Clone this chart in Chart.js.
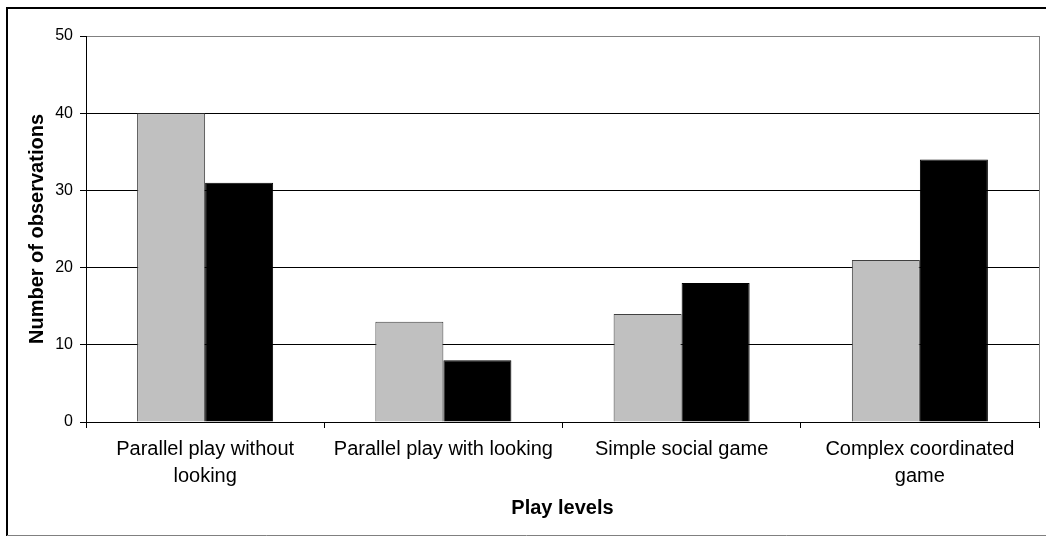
<!DOCTYPE html>
<html>
<head>
<meta charset="utf-8">
<script src="https://cdn.jsdelivr.net/npm/chart.js@4/dist/chart.umd.min.js"></script>
<style>
  html, body { margin: 0; padding: 0; background: #fff; }
  #wrap { width: 1046px; height: 536px; }
</style>
</head>
<body>
<div id="wrap"><canvas id="playChart" width="1046" height="536"></canvas></div>
<script>
// chart data
var categories = [['Parallel play without', 'looking'], 'Parallel play with looking', 'Simple social game', ['Complex coordinated', 'game']];
var greySeries = [40, 13, 14, 21];
var blackSeries = [31, 8, 18, 34];
var yTicks = [0, 10, 20, 30, 40, 50];

var FONT = '"Liberation Sans", Arial, sans-serif';

// outer frame + right plot border
var frame = {
  id: 'frame',
  afterDraw: function(chart) {
    var c = chart.ctx, a = chart.chartArea;
    c.save();
    c.strokeStyle = '#000';
    c.lineWidth = 2;
    c.beginPath();
    c.moveTo(7, 536); c.lineTo(7, 8); c.lineTo(1046, 8);
    c.stroke();
    c.strokeStyle = '#808080';
    c.lineWidth = 1;
    c.beginPath();
    c.moveTo(7, 535.5); c.lineTo(1046, 535.5);
    c.stroke();
    c.beginPath();
    c.moveTo(a.right + 0.5, a.top); c.lineTo(a.right + 0.5, a.bottom);
    c.stroke();
    c.restore();
  }
};

var ctx = document.getElementById('playChart').getContext('2d');
var playChart = new Chart(ctx, {
  type: 'bar',
  data: {
    labels: categories,
    datasets: [{
      label: 'Series 1',
      data: greySeries,
      backgroundColor: '#C0C0C0',
      borderColor: '#404040',
      borderWidth: 1
    }, {
      label: 'Series 2',
      data: blackSeries,
      backgroundColor: '#000',
      borderColor: '#000',
      borderWidth: 1
    }]
  },
  options: {
    responsive: false,
    animation: false,
    layout: { padding: { left: 0, top: 36, right: 7, bottom: 0 } },
    plugins: {
      legend: { display: false },
      tooltip: { enabled: false }
    },
    datasets: {
      bar: { categoryPercentage: 0.571, barPercentage: 1.0 }
    },
    scales: {
      x: {
        afterFit: function(s) { s.height = 114; },
        grid: { offset: true, drawOnChartArea: false, color: '#000', tickColor: '#000', tickLength: 6 },
        border: { color: '#000', width: 1 },
        ticks: { color: '#000', padding: 8, maxRotation: 0, autoSkip: false, font: { family: FONT, size: 20, lineHeight: 1.35 } },
        title: { display: true, text: 'Play levels', color: '#000', padding: { top: 0, bottom: 16 }, font: { family: FONT, size: 20, weight: 'bold' } }
      },
      y: {
        min: 0,
        max: 50,
        afterFit: function(s) { s.width = 86; },
        afterBuildTicks: function(s) { s.ticks = yTicks.map(function(v) { return { value: v }; }); },
        grid: {
          color: function(c) { return c.tick && c.tick.value === 50 ? '#808080' : '#000'; },
          tickColor: '#000',
          tickLength: 6
        },
        border: { color: '#000', width: 1 },
        ticks: { color: '#000', padding: 7, font: { family: FONT, size: 16 } },
        title: { display: true, text: 'Number of observations', color: '#000', padding: { top: 25, bottom: 0 }, font: { family: FONT, size: 20, weight: 'bold' } }
      }
    }
  },
  plugins: [frame]
});
</script>
</body>
</html>
